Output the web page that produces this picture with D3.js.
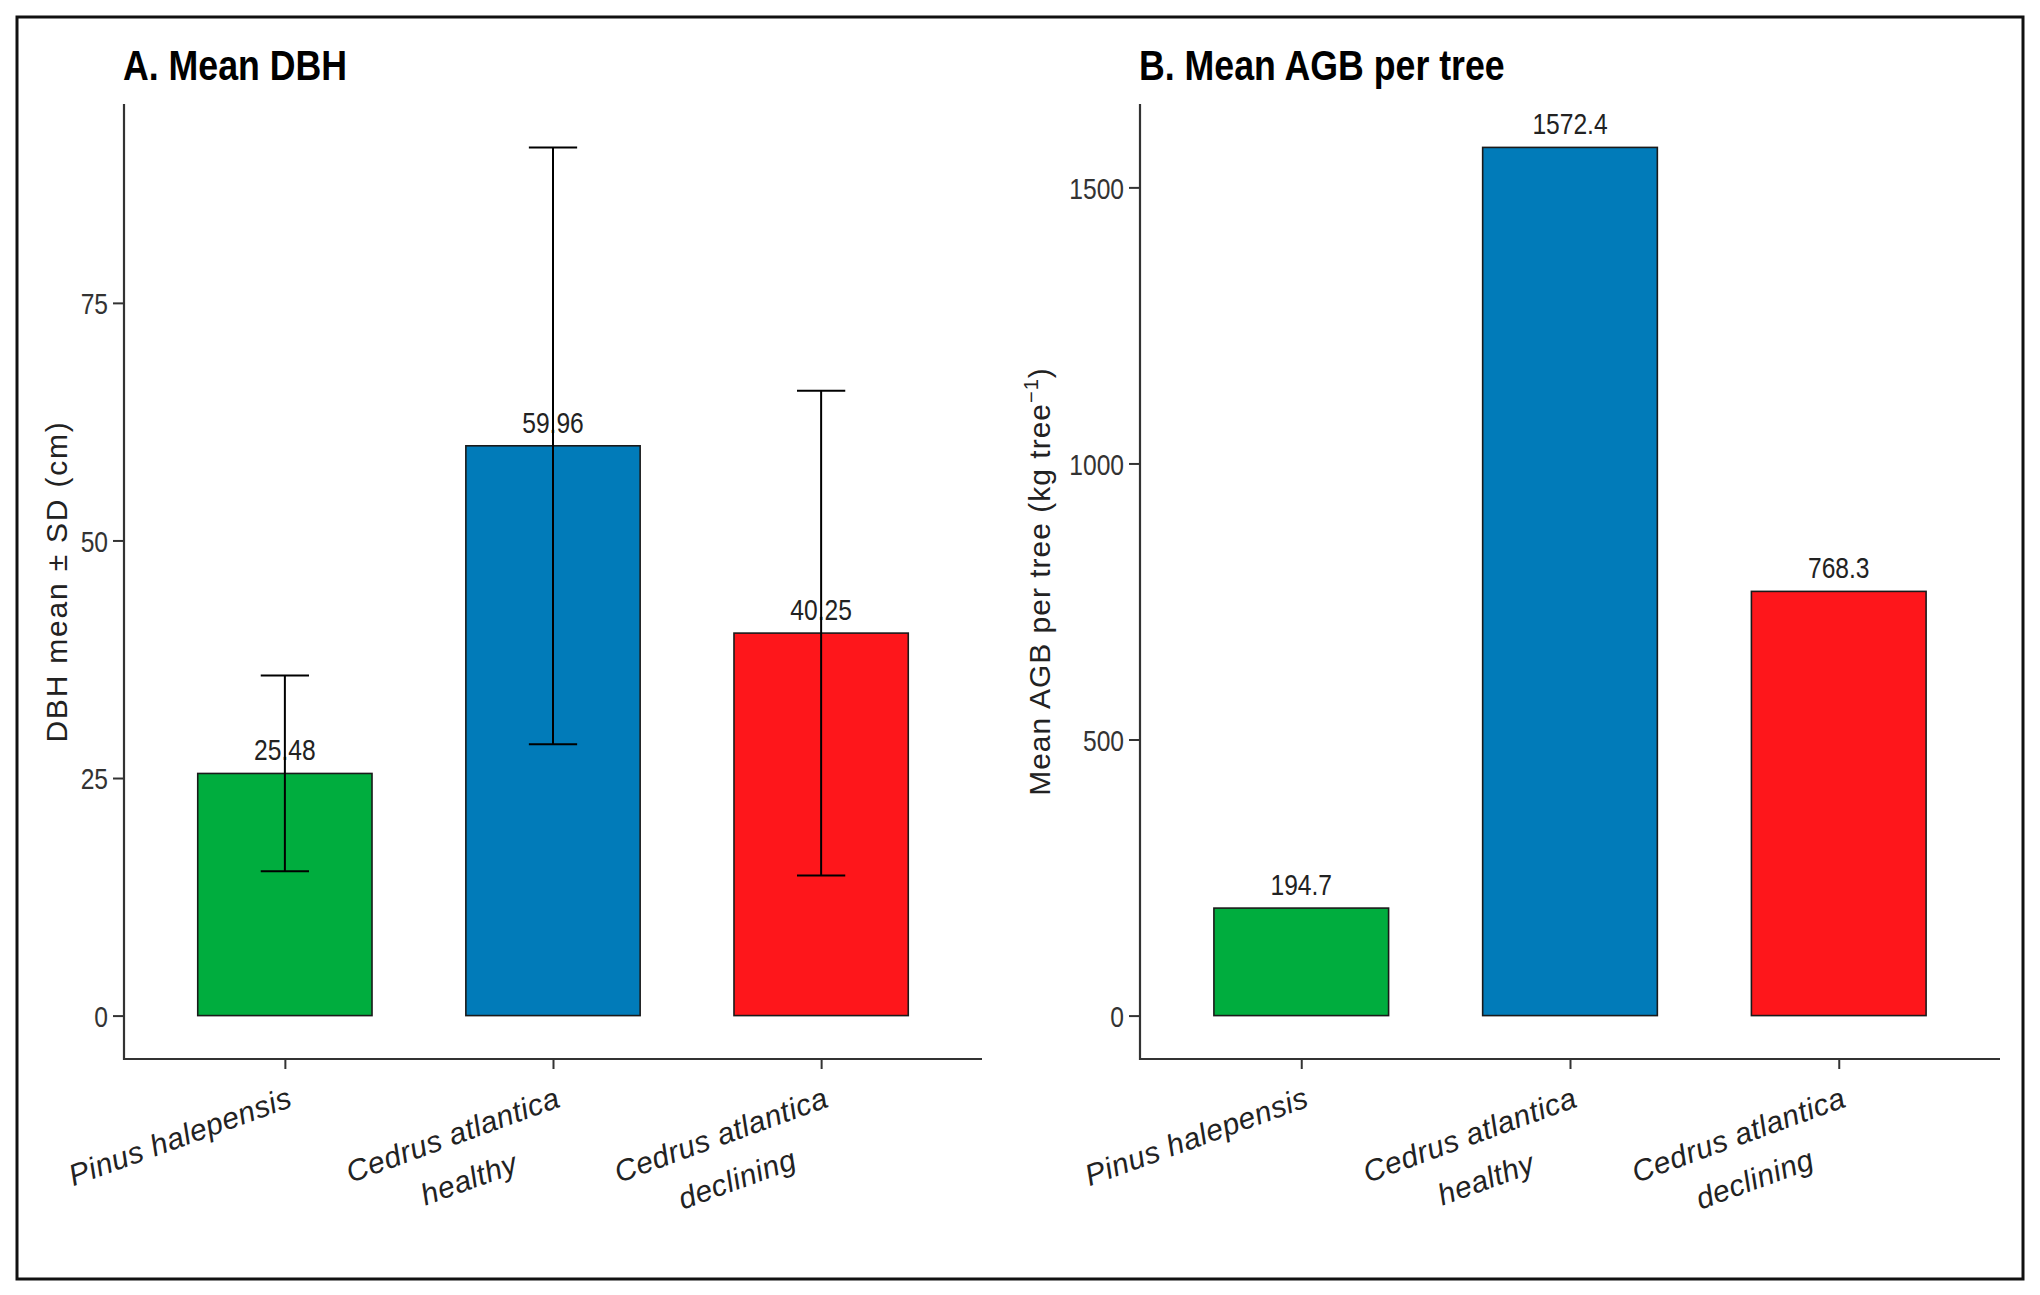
<!DOCTYPE html>
<html>
<head>
<meta charset="utf-8">
<script src="https://cdn.jsdelivr.net/npm/d3@7"></script>
<style>
  body { margin: 0; background: white; }
  .narrow { font-family: "Liberation Sans", Arial, sans-serif; }
  .plain { font-family: "Liberation Sans", Arial, sans-serif; }
</style>
</head>
<body>
<div id="vis"></div>
<script>
/*************** Data *********************/
const categoryLines = [
  ["Pinus halepensis"],
  ["Cedrus atlantica", "healthy"],
  ["Cedrus atlantica", "declining"]
]
const dbhMean = [25.48, 59.96, 40.25]
const dbhSd = [10.3, 31.4, 25.5]
const dbhLabels = ["25.48", "59.96", "40.25"]
const dbhTicks = [0, 25, 50, 75]

const agbMean = [194.7, 1572.4, 768.3]
const agbLabels = ["194.7", "1572.4", "768.3"]
const agbTicks = [0, 500, 1000, 1500]

const barColors = ["#00ad3e", "#017bb9", "#fe161b"]

/*************** Layout *********************/
const width = 2040, height = 1295
const plotTop = 104, plotBottom = 1059
const axisColor = "#333"
// no Arial Narrow available: squeeze Liberation Sans instead
const NARROW = 0.82

function squeeze(sel, factor){
  const f = factor || NARROW
  sel.each(function(){
    const w = this.getComputedTextLength()
    d3.select(this)
      .attr("textLength", w * f)
      .attr("lengthAdjust", "spacingAndGlyphs")
  })
}

const svg = d3.select("#vis").append("svg")
  .attr("width", width)
  .attr("height", height)

svg.append("rect")
  .attr("x", 17).attr("y", 17)
  .attr("width", 2006).attr("height", 1262)
  .attr("fill", "white")
  .attr("stroke", "#111")
  .attr("stroke-width", 3)

function drawPanel(opts){
  const g = svg.append("g")
  const idx = categoryLines.map((d, i) => i)
  const upper = opts.means.map((m, i) => m + (opts.sds ? opts.sds[i] : 0))
  const dataMax = d3.max(upper)
  // ggplot style 5% expansion on the data range [0, max]
  const y = d3.scaleLinear()
    .domain([-0.05 * dataMax, dataMax * 1.05])
    .range([plotBottom, plotTop])
  const x = d3.scalePoint()
    .domain(idx)
    .range([opts.left, opts.right])
    .padding(0.6)
  const step = x.step()
  const barW = step * 0.65
  const capW = step * 0.18

  // title
  g.append("text")
    .attr("class", "narrow")
    .attr("x", opts.left - 1)
    .attr("y", 80)
    .attr("font-size", 42)
    .attr("font-weight", "bold")
    .attr("fill", "#000")
    .text(opts.title)
    .call(squeeze, 0.85)

  // bars
  g.selectAll(".bar")
    .data(idx)
    .join("rect")
      .attr("class", "bar")
      .attr("x", i => x(i) - barW / 2)
      .attr("width", barW)
      .attr("y", i => y(opts.means[i]))
      .attr("height", i => y(0) - y(opts.means[i]))
      .attr("fill", i => barColors[i])
      .attr("stroke", "#1a1a1a")
      .attr("stroke-width", 1.6)

  // value labels
  g.selectAll(".val")
    .data(idx)
    .join("text")
      .attr("class", "val narrow")
      .attr("x", i => x(i))
      .attr("y", i => y(opts.means[i]) - 13)
      .attr("text-anchor", "middle")
      .attr("font-size", 30)
      .attr("fill", "#222")
      .text(i => opts.labels[i])
      .call(squeeze)

  // error bars
  if(opts.sds){
    const eb = g.selectAll(".err")
      .data(idx)
      .join("g")
        .attr("class", "err")
        .attr("stroke", "#000")
        .attr("stroke-width", 2)
    eb.append("line")
      .attr("x1", i => x(i)).attr("x2", i => x(i))
      .attr("y1", i => y(opts.means[i] - opts.sds[i]))
      .attr("y2", i => y(opts.means[i] + opts.sds[i]))
    eb.append("line")
      .attr("x1", i => x(i) - capW / 2).attr("x2", i => x(i) + capW / 2)
      .attr("y1", i => y(opts.means[i] + opts.sds[i]))
      .attr("y2", i => y(opts.means[i] + opts.sds[i]))
    eb.append("line")
      .attr("x1", i => x(i) - capW / 2).attr("x2", i => x(i) + capW / 2)
      .attr("y1", i => y(opts.means[i] - opts.sds[i]))
      .attr("y2", i => y(opts.means[i] - opts.sds[i]))
  }

  // y axis
  const yAxis = g.append("g")
    .attr("transform", `translate(${opts.left},0)`)
    .call(d3.axisLeft(y).tickValues(opts.ticks).tickFormat(d3.format("d"))
      .tickSize(11).tickSizeOuter(0).tickPadding(5))
  yAxis.select(".domain").remove()
  yAxis.selectAll(".tick line").attr("stroke", axisColor).attr("stroke-width", 2)
  yAxis.selectAll(".tick text")
    .attr("class", "narrow")
    .attr("font-size", 30)
    .attr("fill", "#333")
    .attr("dy", "0.36em")
    .call(squeeze)

  // x axis
  const xAxis = g.append("g")
    .attr("transform", `translate(0,${plotBottom})`)
    .call(d3.axisBottom(x).tickSize(10).tickSizeOuter(0).tickFormat(""))
  xAxis.select(".domain").remove()
  xAxis.selectAll(".tick line").attr("stroke", axisColor).attr("stroke-width", 2)

  // axis lines (meet in the corner like theme_classic)
  g.append("path")
    .attr("d", `M${opts.left},${plotTop}V${plotBottom}H${opts.right}`)
    .attr("fill", "none")
    .attr("stroke", axisColor)
    .attr("stroke-width", 2.2)

  // rotated category labels
  const cat = g.selectAll(".cat")
    .data(idx)
    .join("g")
      .attr("class", "cat")
      .attr("transform", i => `translate(${x(i) + 9},${plotBottom + 47}) rotate(-20)`)
  cat.each(function(i){
    const lines = categoryLines[i]
    const sel = d3.select(this)
    const first = sel.append("text")
      .attr("class", "plain")
      .attr("text-anchor", "end")
      .attr("font-size", 30)
      .attr("font-style", "italic")
      .attr("letter-spacing", 0.5)
      .attr("fill", "#222")
      .text(lines[0])
    const w1 = first.node().getComputedTextLength()
    if(lines.length > 1){
      sel.append("text")
        .attr("class", "plain")
        .attr("text-anchor", "middle")
        .attr("x", -w1 / 2)
        .attr("y", 47)
        .attr("font-size", 30)
        .attr("font-style", "italic")
        .attr("letter-spacing", 0.5)
        .attr("fill", "#222")
        .text(lines[1])
    }
  })

  // y title
  const yTitle = g.append("text")
    .attr("class", "plain")
    .attr("transform", `translate(${opts.titleX},${(plotTop + plotBottom) / 2}) rotate(-90)`)
    .attr("text-anchor", "middle")
    .attr("font-size", 30)
    .attr("letter-spacing", opts.titleSpacing)
    .attr("fill", "#222")
  opts.yTitle(yTitle)
}

drawPanel({
  title: "A. Mean DBH",
  left: 124, right: 982,
  means: dbhMean, sds: dbhSd, labels: dbhLabels, ticks: dbhTicks,
  titleX: 67, titleSpacing: 1.8,
  yTitle: t => t.text("DBH mean ± SD (cm)")
})

drawPanel({
  title: "B. Mean AGB per tree",
  left: 1140, right: 2000,
  means: agbMean, sds: null, labels: agbLabels, ticks: agbTicks,
  titleX: 1050, titleSpacing: 1,
  yTitle: t => {
    t.append("tspan").text("Mean AGB per tree (kg tree")
    t.append("tspan").attr("dy", -12).attr("font-size", 20).text("−1")
    t.append("tspan").attr("dy", 12).text(")")
  }
})
</script>
</body>
</html>
